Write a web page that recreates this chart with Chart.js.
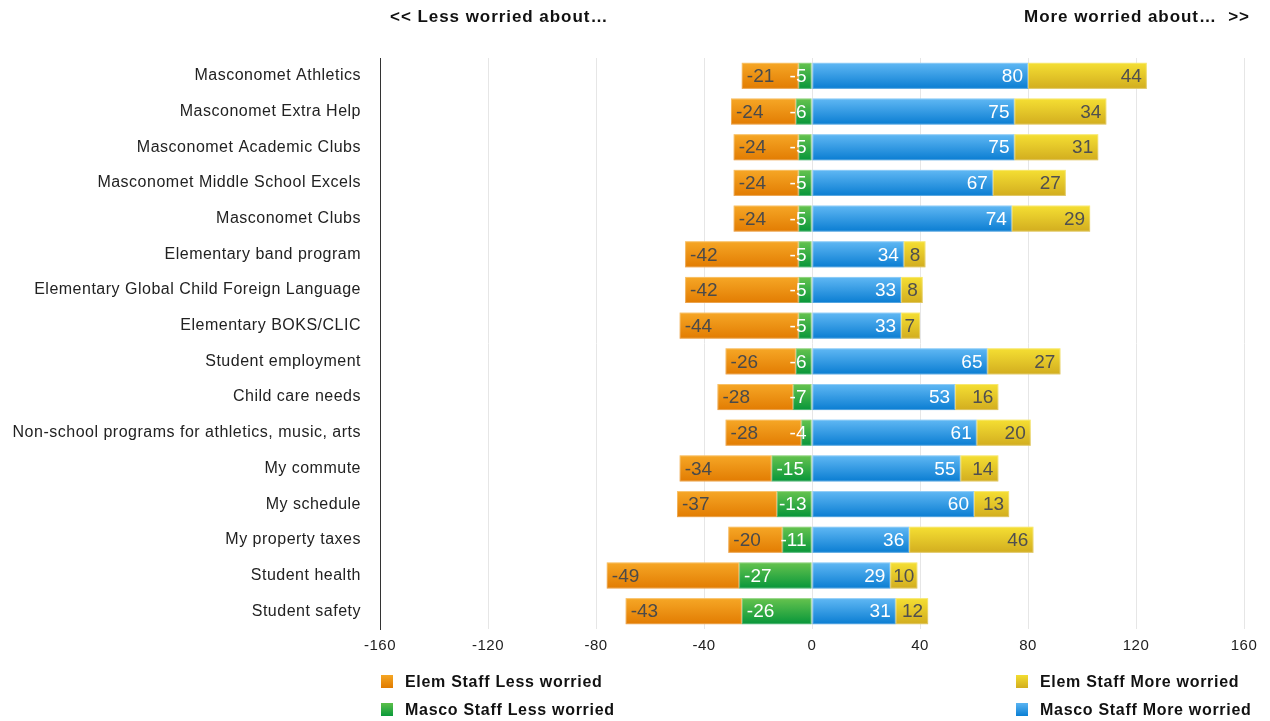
<!DOCTYPE html>
<html>
<head>
<meta charset="utf-8">
<script src="https://cdn.jsdelivr.net/npm/chart.js@4"></script>
<style>
  body { margin: 0; background: #fff; font-family: "Liberation Sans", Arial, sans-serif; }
  #wrap { position: relative; width: 1270px; height: 721px; }
  canvas { position: absolute; left: 0; top: 0; }
  .hdr { position: absolute; top: 7px; font-weight: bold; font-size: 17px; letter-spacing: 0.95px; color: #111; }
  .leg { position: absolute; font-weight: bold; font-size: 16px; letter-spacing: 0.7px; color: #111; white-space: nowrap; }
  .leg i { display: inline-block; width: 12px; height: 13px; vertical-align: -1px; margin-right: 12px; }
</style>
</head>
<body>
<div id="wrap">
  <canvas id="chart" width="1270" height="721"></canvas>
  <div class="hdr" style="left:390px">&lt;&lt; Less worried about…</div>
  <div class="hdr" style="right:20px">More worried about…&nbsp; &gt;&gt;</div>
  <div class="leg" style="left:381px;top:673px"><i style="background:linear-gradient(#f5a623,#e07b00)"></i>Elem Staff Less worried</div>
  <div class="leg" style="left:381px;top:701px"><i style="background:linear-gradient(#5cbf4a,#0a9a3a)"></i>Masco Staff Less worried</div>
  <div class="leg" style="left:1016px;top:673px"><i style="background:linear-gradient(#f3dd30,#d2ad1e)"></i>Elem Staff More worried</div>
  <div class="leg" style="left:1016px;top:701px"><i style="background:linear-gradient(#5ab4f2,#0a7fd4)"></i>Masco Staff More worried</div>
</div>
<script>
const categories = [
  'Masconomet Athletics',
  'Masconomet Extra Help',
  'Masconomet Academic Clubs',
  'Masconomet Middle School Excels',
  'Masconomet Clubs',
  'Elementary band program',
  'Elementary Global Child Foreign Language',
  'Elementary BOKS/CLIC',
  'Student employment',
  'Child care needs',
  'Non-school programs for athletics, music, arts',
  'My commute',
  'My schedule',
  'My property taxes',
  'Student health',
  'Student safety'
]
const elemLess = [-21, -24, -24, -24, -24, -42, -42, -44, -26, -28, -28, -34, -37, -20, -49, -43]
const mascoLess = [-5, -6, -5, -5, -5, -5, -5, -5, -6, -7, -4, -15, -13, -11, -27, -26]
const mascoMore = [80, 75, 75, 67, 74, 34, 33, 33, 65, 53, 61, 55, 60, 36, 29, 31]
const elemMore = [44, 34, 31, 27, 29, 8, 8, 7, 27, 16, 20, 14, 13, 46, 10, 12]
const xTicks = [-160, -120, -80, -40, 0, 40, 80, 120, 160]

// top / bottom colours for the glossy bar look
const shades = {
  mascoLess: ['#66c34e', '#07963a'],
  elemLess: ['#f6a726', '#e27c02'],
  mascoMore: ['#60b8f4', '#0a7dd2'],
  elemMore: ['#f5df33', '#d2ad1f']
}

const barLook = {
  id: 'barLook',
  beforeDraw(chart) {
    chart.ctx.letterSpacing = '0.5px'
  },
  afterDatasetsDraw(chart) {
    const ctx = chart.ctx
    const metas = chart.data.datasets.map((ds, i) => chart.getDatasetMeta(i))
    // bars first
    chart.data.datasets.forEach((ds, i) => {
      metas[i].data.forEach(bar => {
        const left = Math.min(bar.x, bar.base)
        const right = Math.max(bar.x, bar.base)
        const top = bar.y - bar.height / 2
        const g = ctx.createLinearGradient(0, top, 0, top + bar.height)
        g.addColorStop(0, ds.shade[0])
        g.addColorStop(1, ds.shade[1])
        ctx.save()
        ctx.fillStyle = g
        ctx.fillRect(left, top, right - left, bar.height)
        ctx.strokeStyle = 'rgba(255,255,255,0.3)'
        ctx.lineWidth = 1
        ctx.strokeRect(left + 0.5, top + 0.5, right - left - 1, bar.height - 1)
        ctx.restore()
      })
    })
    // then value labels on top
    ctx.save()
    ctx.letterSpacing = '0px'
    ctx.font = '19px "Liberation Sans", Arial, sans-serif'
    ctx.textBaseline = 'middle'
    ctx.textAlign = 'left'
    chart.data.datasets.forEach((ds, i) => {
      metas[i].data.forEach((bar, j) => {
        const txt = String(ds.data[j])
        const w = ctx.measureText(txt).width
        let left
        if (ds.data[j] < 0) {
          left = Math.min(bar.x + 5, bar.base - 5 - w)
        } else {
          left = Math.max(bar.x - 5 - w, bar.base + 3)
        }
        ctx.fillStyle = ds.labelColor
        ctx.fillText(txt, left, bar.y + 1)
      })
    })
    ctx.restore()
  }
}

const ctx = document.getElementById('chart').getContext('2d')
new Chart(ctx, {
  type: 'bar',
  data: {
    labels: categories,
    datasets: [
      { label: 'Masco Staff Less worried', data: mascoLess, shade: shades.mascoLess, labelColor: '#fff' },
      { label: 'Elem Staff Less worried', data: elemLess, shade: shades.elemLess, labelColor: '#4a4a4a' },
      { label: 'Masco Staff More worried', data: mascoMore, shade: shades.mascoMore, labelColor: '#fff' },
      { label: 'Elem Staff More worried', data: elemMore, shade: shades.elemMore, labelColor: '#4f4f4f' }
    ].map(d => Object.assign(d, {
      backgroundColor: 'rgba(0,0,0,0)',
      borderWidth: 0,
      barPercentage: 0.73,
      categoryPercentage: 1
    }))
  },
  options: {
    indexAxis: 'y',
    responsive: false,
    animation: false,
    layout: { padding: { top: 58, right: 26, left: 0, bottom: 0 } },
    plugins: { legend: { display: false }, tooltip: { enabled: false } },
    scales: {
      x: {
        stacked: true,
        min: -160,
        max: 160,
        afterBuildTicks: s => { s.ticks = xTicks.map(v => ({ value: v })) },
        afterFit: s => { s.height = 92 },
        grid: { color: '#e6e6e6', drawTicks: false },
        border: { display: false },
        ticks: { color: '#222', font: { size: 15, family: '"Liberation Sans", Arial' }, padding: 8 }
      },
      y: {
        stacked: true,
        afterFit: s => { s.width = 380 },
        grid: { display: false, drawTicks: false },
        border: { display: true, color: '#333', width: 1 },
        ticks: { color: '#222', font: { size: 16, family: '"Liberation Sans", Arial' }, padding: 19 }
      }
    }
  },
  plugins: [barLook]
})
</script>
</body>
</html>
